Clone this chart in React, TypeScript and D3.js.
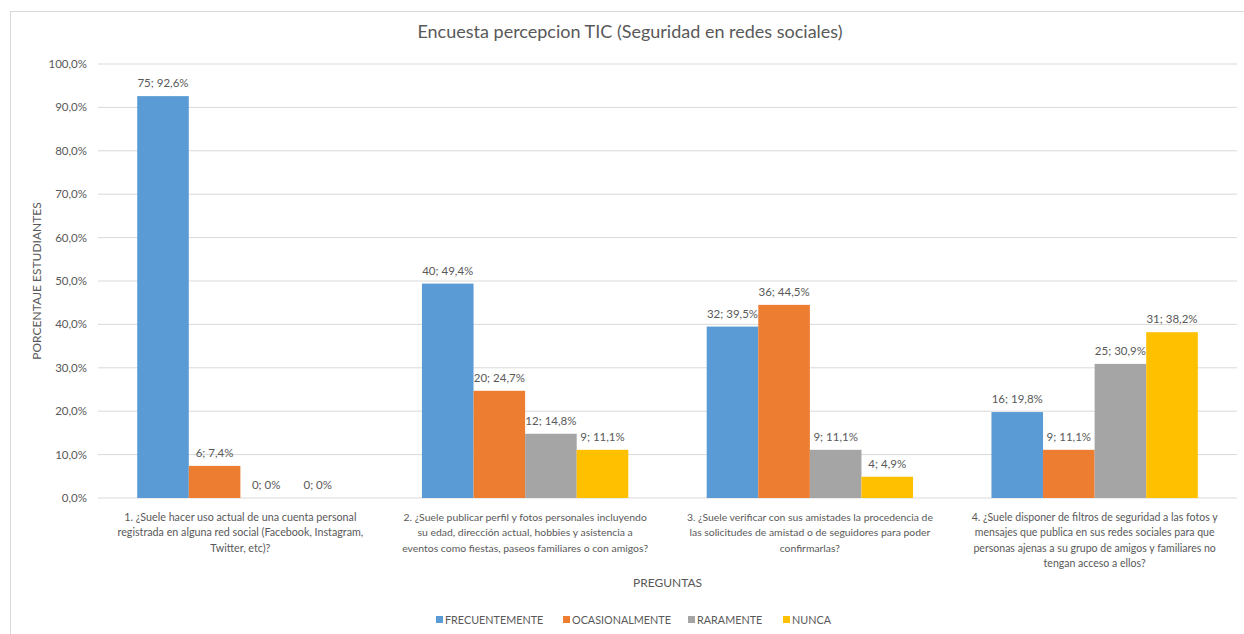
import { useLayoutEffect, useRef } from 'react';
import * as d3 from 'd3';

// chart data
const questions = ['P1', 'P2', 'P3', 'P4'];
const questionLines = [
  ['1. ¿Suele hacer uso actual de una cuenta personal', 'registrada en alguna red social (Facebook, Instagram,', 'Twitter, etc)?'],
  ['2. ¿Suele publicar perfil y fotos personales incluyendo', 'su edad, dirección actual, hobbies y asistencia a', 'eventos como fiestas, paseos familiares o con amigos?'],
  ['3. ¿Suele verificar con sus amistades la procedencia de', 'las solicitudes de amistad o de seguidores para poder', 'confirmarlas?'],
  ['4. ¿Suele disponer de filtros de seguridad a las fotos y', 'mensajes que publica en sus redes sociales para que', 'personas ajenas a su grupo de amigos y familiares no', 'tengan acceso a ellos?'],
];
const seriesNames = ['FRECUENTEMENTE', 'OCASIONALMENTE', 'RARAMENTE', 'NUNCA'];
const seriesColors = ['#5B9BD5', '#ED7D31', '#A5A5A5', '#FFC000'];
const frecuenteCount = [75, 40, 32, 16];
const frecuentePct = [92.6, 49.4, 39.5, 19.8];
const ocasionalCount = [6, 20, 36, 9];
const ocasionalPct = [7.4, 24.7, 44.5, 11.1];
const raramenteCount = [0, 12, 9, 25];
const raramentePct = [0, 14.8, 11.1, 30.9];
const nuncaCount = [0, 9, 4, 31];
const nuncaPct = [0, 11.1, 4.9, 38.2];
const yTicks = [0, 10, 20, 30, 40, 50, 60, 70, 80, 90, 100];

const counts = [frecuenteCount, ocasionalCount, raramenteCount, nuncaCount];
const pcts = [frecuentePct, ocasionalPct, raramentePct, nuncaPct];

const W = 1244;
const H = 634;
const plot = { left: 98, right: 1237, top: 64, bottom: 498 };
const FONT = 'Lato, "Open Sans", sans-serif';
const TEXT = '#595959';
const CAT_FONT = 12;
const MAX_LABEL_W = 246;

const fmtPct = (v: number) => (v === 0 ? '0%' : v.toFixed(1).replace('.', ',') + '%');

export default function App() {
  const svgRef = useRef<SVGSVGElement>(null);

  const x0 = d3.scaleBand<string>().domain(questions).range([plot.left, plot.right]).padding(0);
  const x1 = d3
    .scaleBand<string>()
    .domain(seriesNames)
    .range([0, x0.bandwidth()])
    .paddingInner(0)
    .paddingOuter(0.76);
  const y = d3.scaleLinear().domain([0, 100]).range([plot.bottom, plot.top]);

  // Lato runs wider than the original font: shrink a whole label block if its widest line is too long
  useLayoutEffect(() => {
    d3.select(svgRef.current)
      .selectAll<SVGTextElement, unknown>('text.cat')
      .each(function () {
        const spans = Array.from(this.querySelectorAll('tspan')) as SVGTSpanElement[];
        const w = d3.max(spans, (s) => s.getComputedTextLength()) ?? 0;
        if (w > MAX_LABEL_W) {
          d3.select(this).attr('font-size', ((CAT_FONT * MAX_LABEL_W) / w).toFixed(2));
        }
      });
  }, []);

  // legend layout
  const legendX = [436, 563, 688, 783];

  return (
    <svg
      ref={svgRef}
      width={W}
      height={H}
      style={{ position: 'absolute', left: 0, top: 0, background: '#fff' }}
      fontFamily={FONT}
    >
      <rect x={10.5} y={11.5} width={W} height={H} fill="#fff" stroke="#d9d9d9" />

      <text x={630} y={38} textAnchor="middle" fontSize={18} fill={TEXT}>
        Encuesta percepcion TIC (Seguridad en redes sociales)
      </text>

      {/* grid + y ticks */}
      {yTicks.map((t) => (
        <g key={t}>
          <line x1={plot.left} x2={plot.right} y1={y(t)} y2={y(t)} stroke="#d9d9d9" strokeWidth={1} />
          <text x={87} y={y(t) + 4} textAnchor="end" fontSize={11.5} fill={TEXT}>
            {t.toFixed(1).replace('.', ',') + '%'}
          </text>
        </g>
      ))}

      <text
        transform={`translate(41,${(plot.top + plot.bottom) / 2}) rotate(-90)`}
        textAnchor="middle"
        fontSize={12}
        fill={TEXT}
      >
        PORCENTAJE ESTUDIANTES
      </text>

      {/* bars */}
      {questions.map((q, qi) => (
        <g key={q} transform={`translate(${x0(q)},0)`}>
          {seriesNames.map((s, si) => {
            const v = pcts[si][qi];
            const bx = x1(s)!;
            const top = y(v);
            return (
              <g key={s}>
                {v > 0 && (
                  <rect x={bx} y={top} width={x1.bandwidth()} height={plot.bottom - top} fill={seriesColors[si]} />
                )}
                <text
                  x={bx + x1.bandwidth() / 2}
                  y={top - 9}
                  textAnchor="middle"
                  fontSize={11.5}
                  fill={TEXT}
                >
                  {`${counts[si][qi]}; ${fmtPct(v)}`}
                </text>
              </g>
            );
          })}
        </g>
      ))}

      {/* category labels */}
      {questions.map((q, qi) => (
        <text
          key={q}
          className="cat"
          x={x0(q)! + x0.bandwidth() / 2}
          y={521}
          textAnchor="middle"
          fontSize={CAT_FONT}
          fill={TEXT}
        >
          {questionLines[qi].map((line, li) => (
            <tspan key={li} x={x0(q)! + x0.bandwidth() / 2} y={521 + li * 15.3}>
              {line}
            </tspan>
          ))}
        </text>
      ))}

      <text x={(plot.left + plot.right) / 2} y={587} textAnchor="middle" fontSize={12} fill={TEXT}>
        PREGUNTAS
      </text>

      {/* legend */}
      {seriesNames.map((s, si) => (
        <g key={s}>
          <rect x={legendX[si]} y={616} width={7} height={7} fill={seriesColors[si]} />
          <text x={legendX[si] + 9} y={624} fontSize={10.8} fill={TEXT}>
            {s}
          </text>
        </g>
      ))}
    </svg>
  );
}
